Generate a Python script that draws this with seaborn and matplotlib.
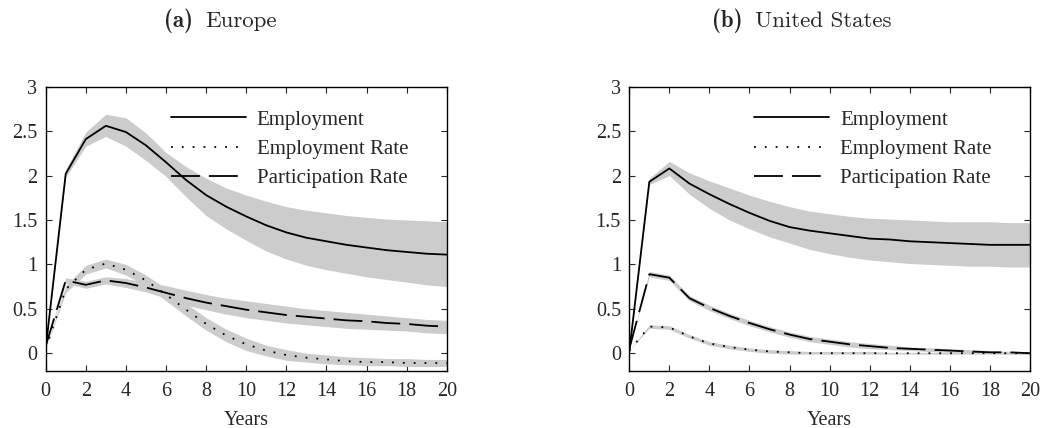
import numpy as np
import matplotlib
matplotlib.use("Agg")
import matplotlib.pyplot as plt
import seaborn as sns

# years after the shock
years = list(range(0, 21))

# Europe
eu_emp = [0.05, 2.02, 2.41, 2.56, 2.49, 2.34, 2.15, 1.95, 1.78, 1.65, 1.54, 1.44, 1.36, 1.30, 1.26, 1.22, 1.19, 1.16, 1.14, 1.12, 1.11]
eu_emp_hi = [0.05, 2.07, 2.49, 2.69, 2.65, 2.48, 2.26, 2.10, 1.97, 1.86, 1.78, 1.71, 1.65, 1.61, 1.58, 1.55, 1.53, 1.51, 1.50, 1.49, 1.48]
eu_emp_lo = [0.05, 1.98, 2.33, 2.44, 2.33, 2.17, 1.99, 1.76, 1.55, 1.40, 1.27, 1.15, 1.06, 0.99, 0.94, 0.90, 0.86, 0.83, 0.80, 0.77, 0.75]
eu_rate = [0.05, 0.72, 0.94, 1.01, 0.94, 0.82, 0.66, 0.49, 0.33, 0.20, 0.10, 0.03, -0.02, -0.05, -0.07, -0.09, -0.10, -0.10, -0.11, -0.11, -0.11]
eu_rate_hi = [0.05, 0.76, 0.99, 1.06, 1.00, 0.88, 0.73, 0.56, 0.40, 0.27, 0.17, 0.09, 0.04, 0.00, -0.02, -0.04, -0.05, -0.06, -0.06, -0.07, -0.07]
eu_rate_lo = [0.05, 0.68, 0.89, 0.96, 0.88, 0.76, 0.59, 0.42, 0.26, 0.13, 0.03, -0.03, -0.08, -0.10, -0.12, -0.13, -0.14, -0.14, -0.15, -0.15, -0.15]
eu_part = [0.08, 0.82, 0.77, 0.82, 0.79, 0.74, 0.68, 0.62, 0.57, 0.53, 0.49, 0.46, 0.43, 0.41, 0.39, 0.37, 0.36, 0.34, 0.33, 0.31, 0.30]
eu_part_hi = [0.08, 0.85, 0.81, 0.86, 0.84, 0.80, 0.76, 0.71, 0.66, 0.62, 0.59, 0.56, 0.53, 0.50, 0.48, 0.46, 0.44, 0.42, 0.40, 0.38, 0.37]
eu_part_lo = [0.08, 0.79, 0.73, 0.78, 0.74, 0.69, 0.62, 0.54, 0.49, 0.44, 0.40, 0.37, 0.34, 0.32, 0.30, 0.28, 0.27, 0.26, 0.25, 0.23, 0.22]

# United States
us_emp = [0.02, 1.93, 2.08, 1.91, 1.79, 1.68, 1.58, 1.49, 1.42, 1.38, 1.35, 1.32, 1.29, 1.28, 1.26, 1.25, 1.24, 1.23, 1.22, 1.22, 1.22]
us_emp_hi = [0.02, 1.97, 2.16, 2.03, 1.94, 1.86, 1.78, 1.71, 1.65, 1.60, 1.57, 1.54, 1.52, 1.51, 1.50, 1.49, 1.48, 1.48, 1.48, 1.47, 1.47]
us_emp_lo = [0.02, 1.90, 2.00, 1.79, 1.63, 1.50, 1.40, 1.31, 1.24, 1.17, 1.12, 1.08, 1.05, 1.03, 1.01, 1.00, 0.99, 0.98, 0.98, 0.97, 0.97]
us_rate = [0.03, 0.30, 0.29, 0.19, 0.11, 0.07, 0.04, 0.02, 0.01, 0.00, 0.00, 0.00, 0.00, 0.00, 0.00, 0.00, 0.00, 0.00, 0.00, 0.00, 0.00]
us_rate_hi = [0.03, 0.32, 0.31, 0.21, 0.13, 0.09, 0.06, 0.04, 0.03, 0.02, 0.02, 0.02, 0.02, 0.01, 0.01, 0.01, 0.01, 0.01, 0.01, 0.01, 0.01]
us_rate_lo = [0.03, 0.28, 0.27, 0.17, 0.09, 0.05, 0.02, 0.00, -0.01, -0.01, -0.01, -0.01, -0.01, -0.01, -0.01, -0.01, -0.01, -0.01, -0.01, -0.01, -0.01]
us_part = [0.05, 0.89, 0.85, 0.62, 0.51, 0.42, 0.34, 0.27, 0.21, 0.16, 0.13, 0.10, 0.08, 0.06, 0.05, 0.04, 0.03, 0.02, 0.01, 0.01, 0.00]
us_part_hi = [0.05, 0.92, 0.88, 0.65, 0.54, 0.45, 0.37, 0.30, 0.24, 0.19, 0.16, 0.13, 0.11, 0.09, 0.07, 0.06, 0.05, 0.04, 0.03, 0.02, 0.01]
us_part_lo = [0.05, 0.86, 0.82, 0.59, 0.48, 0.39, 0.31, 0.24, 0.18, 0.13, 0.10, 0.07, 0.05, 0.04, 0.03, 0.02, 0.01, 0.00, 0.00, -0.01, -0.01]

labels = ["Employment", "Employment Rate", "Participation Rate"]
styles = ["-", (0, (1, 5)), (0, (16, 5))]

sns.set_style("ticks")
plt.rcParams["font.family"] = ["Liberation Serif", "DejaVu Serif"]
plt.rcParams["xtick.direction"] = "in"
plt.rcParams["ytick.direction"] = "in"

fig = plt.figure(figsize=(10.45, 4.28), dpi=100)
ax_eu = fig.add_axes([0.0437, 0.1332, 0.3838, 0.6642])
ax_us = fig.add_axes([0.6022, 0.1332, 0.3834, 0.6642])

panels = [
    (ax_eu, [(eu_emp, eu_emp_lo, eu_emp_hi), (eu_rate, eu_rate_lo, eu_rate_hi), (eu_part, eu_part_lo, eu_part_hi)]),
    (ax_us, [(us_emp, us_emp_lo, us_emp_hi), (us_rate, us_rate_lo, us_rate_hi), (us_part, us_part_lo, us_part_hi)]),
]

for ax, series in panels:
    # confidence bands first
    for mid, lo, hi in series:
        ax.fill_between(years, lo, hi, color="#cccccc", linewidth=0, zorder=1)
    for (mid, lo, hi), lab, ls in zip(series, labels, styles):
        sns.lineplot(x=years, y=mid, ax=ax, color="black", linestyle=ls,
                     linewidth=1.3, label=lab, zorder=3)
    ax.set_xlim(0, 20)
    ax.set_ylim(-0.2, 3)
    ax.set_xticks(np.arange(0, 21, 2))
    ax.set_yticks(np.arange(0, 3.01, 0.5))
    ax.set_yticklabels(["0", "0.5", "1", "1.5", "2", "2.5", "3"])
    ax.tick_params(top=True, right=True, length=4, width=0.8, labelsize=14.5, pad=6)
    ax.tick_params(axis="x", pad=8)
    ax.set_xlabel("Years", fontsize=14.5, labelpad=7)
    ax.set_ylabel("")
    for sp in ax.spines.values():
        sp.set_linewidth(1.0)
        sp.set_color("black")
    ax.legend(loc="upper right", bbox_to_anchor=(0.935, 0.962), frameon=False,
              fontsize=15, handlelength=3.6, handletextpad=0.5,
              labelspacing=0.47, borderaxespad=0.2)

# sub-captions (LaTeX-like)
fig.text(193 / 1045, 0.951, "(a)", ha="right", va="center", fontsize=16.5, family="cmb10")
fig.text(205 / 1045, 0.951, "Europe", ha="left", va="center", fontsize=16.5, family="cmr10")
fig.text(743 / 1045, 0.951, "(b)", ha="right", va="center", fontsize=16.5, family="cmb10")
fig.text(755 / 1045, 0.951, "United States", ha="left", va="center", fontsize=16.5, family="cmr10")

fig.savefig("out.png", dpi=100)
